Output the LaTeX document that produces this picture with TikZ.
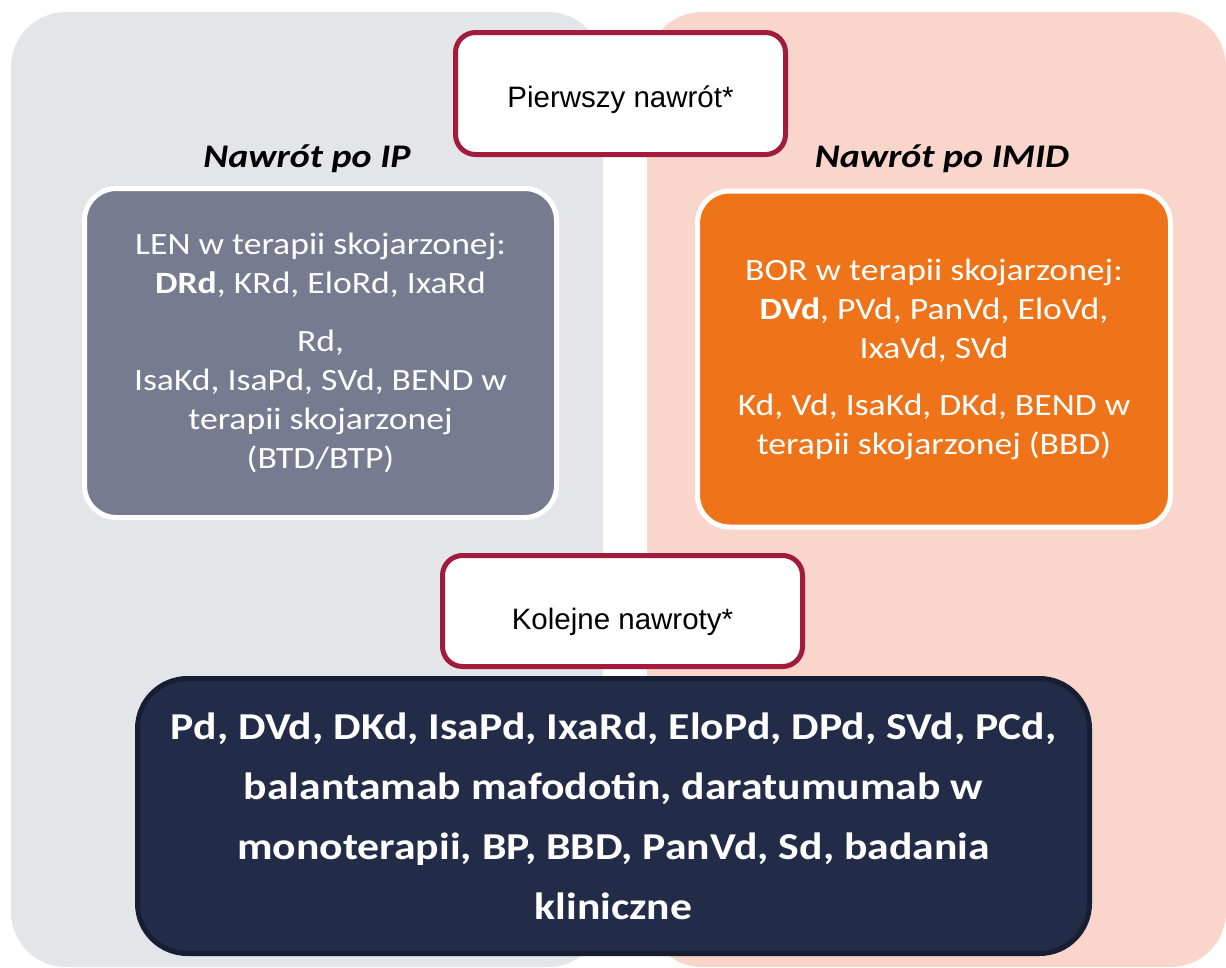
\documentclass[tikz,border=0pt]{standalone}
\usepackage{fontspec}
\setmainfont{Carlito}[FakeStretch=1.15]
\newfontfamily\arialfont{Liberation Sans}
\usepackage{tikz}
\usetikzlibrary{positioning}
\definecolor{panelgray}{HTML}{E4E5E9}
\definecolor{panelpink}{HTML}{F9D5CC}
\definecolor{boxgray}{HTML}{767B8F}
\definecolor{boxorange}{HTML}{EF7318}
\definecolor{boxnavy}{HTML}{222C48}
\definecolor{navyline}{HTML}{171D33}
\definecolor{crimson}{HTML}{A11C3C}

\begin{document}
\begin{tikzpicture}[x=1pt, y=-1pt,
    panel/.style={rounded corners=55pt},
    tagbox/.style={draw=crimson, line width=5pt, fill=white,
                   rounded corners=20pt, inner sep=0pt, text depth=0pt,
                   font=\arialfont\fontsize{29.5}{35}\selectfont},
    drugbox/.style={draw=white, line width=5pt, rounded corners=32pt,
                    text=white, align=center, inner sep=0pt,
                    font=\fontsize{31}{39}\selectfont},
    head/.style={anchor=base, font=\bfseries\itshape\fontsize{33}{40}\selectfont}]
  \useasboundingbox (0,0) rectangle (1226,967);

  % Panels
  \fill[panelgray, panel] (11,12) rectangle (603,967);
  \fill[panelpink, panel] (647,12) rectangle (1226,967);

  % Headers
  \node[head] (ip)   at (307,167) {Nawrót po IP};
  \node[head] (imid) at (942,167) {Nawrót po IMID};

  % Nodes
  \node[tagbox, text height=27pt, minimum width=330pt, minimum height=122pt] (first) at (620.5,93.5)
       {Pierwszy nawrót*};
  \node[drugbox, fill=boxgray, minimum width=472pt, minimum height=329pt] (len) at (320.5,353)
       {LEN w terapii skojarzonej:\\
        \textbf{DRd}, KRd, EloRd, IxaRd\\[19pt]
        Rd,\\
        IsaKd, IsaPd, SVd, BEND w\\
        terapii skojarzonej\\
        (BTD/BTP)};
  \node[drugbox, fill=boxorange, minimum width=473pt, minimum height=336pt] (bor) at (934,359)
       {BOR w terapii skojarzonej:\\
        \textbf{DVd}, PVd, PanVd, EloVd,\\
        IxaVd, SVd\\[18pt]
        Kd, Vd, IsaKd, DKd, BEND w\\
        terapii skojarzonej (BBD)};
  \node[tagbox, text height=36pt, minimum width=360pt, minimum height=111pt] (next) at (622.5,611)
       {Kolejne nawroty*};
  \node[drugbox, draw=navyline, fill=boxnavy, rounded corners=50pt,
        minimum width=952pt, minimum height=275pt,
        font=\bfseries\fontsize{38}{60}\selectfont] (later) at (613.5,816)
       {Pd, DVd, DKd, IsaPd, IxaRd, EloPd, DPd, SVd, PCd,\\
        balantamab mafodotin, daratumumab w\\
        monoterapii, BP, BBD, PanVd, Sd, badania\\
        kliniczne};
\end{tikzpicture}
\end{document}
